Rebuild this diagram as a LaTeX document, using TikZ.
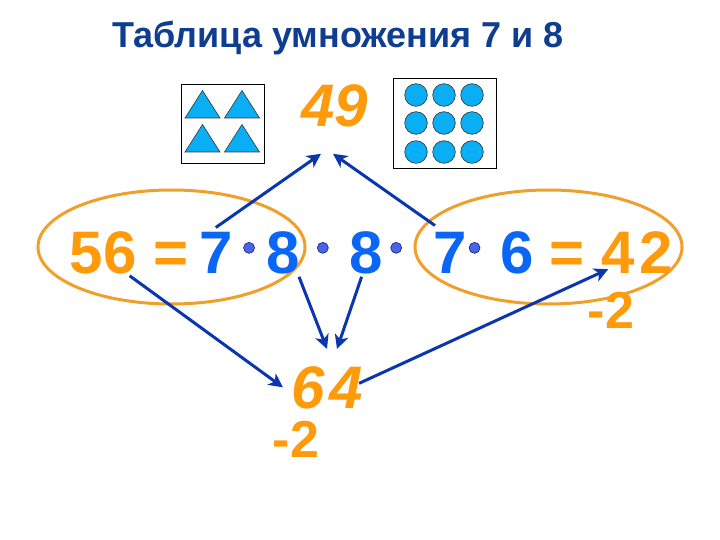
\documentclass[tikz,border=0pt]{standalone}
\usepackage{fontspec}
\setmainfont{Liberation Sans}
\usetikzlibrary{positioning,
calc,
shapes.geometric,
arrows.meta}
\definecolor{Orng}{HTML}{FF9A0A}
\definecolor{Ring}{HTML}{F0A02A}
\definecolor{Digit}{HTML}{0A66F5}
\definecolor{Line}{HTML}{0A36B0}
\definecolor{Sky}{HTML}{0AAEF5}
\definecolor{Head}{HTML}{0F3D8F}
\definecolor{Spot}{HTML}{4C62E8}
\tikzstyle{Arrow} = [
line width=3pt,
color=Line,
-{Stealth[inset=4pt,length=14pt,width=14pt]}
]
\tikzstyle{Num} = [inner sep=0pt, text=Digit, font=\fontsize{60}{60}\selectfont\bfseries]
\tikzstyle{Res} = [Num, text=Orng]
\tikzstyle{Ital} = [Res, font=\fontsize{60}{60}\selectfont\bfseries\itshape]
\tikzstyle{Minus} = [Res, font=\fontsize{52}{52}\selectfont\bfseries]
\tikzstyle{Dot} = [circle, draw=Line!70!black, fill=Spot, line width=0.6pt, inner sep=0pt, minimum size=11pt]
\tikzstyle{Oval} = [ellipse, draw=Ring, line width=3pt, inner sep=0pt]
\tikzstyle{Box} = [rectangle, draw, line width=0.9pt, inner sep=0pt]
\tikzstyle{Tri} = [fill=Sky, draw=black!80, line width=0.6pt]
\begin{document}
\begin{tikzpicture}[x=1pt,y=-1pt]
            \useasboundingbox (0,0) rectangle (720,540);
            \fill[white] (0,0) rectangle (720,540);
            \node [anchor=base west, inner sep=0pt, text=Head, font=\fontsize{36}{36}\selectfont\bfseries] (title) at (112,48) {Таблица умножения 7 и 8};

            \node [Box, minimum width=83pt, minimum height=79pt] (boxtri) at (222.5,123.5) {};
            \node [Box, minimum width=103pt, minimum height=90pt] (boxcirc) at (444.5,123) {};
            \foreach \x/\y in {202.5/118, 242/118, 202.5/152, 242/152}
                \draw[Tri] (\x-17.5,\y) -- (\x,\y-27.5) -- (\x+17.5,\y) -- cycle;
            \foreach \x in {416,444,472}
                \foreach \y in {95,123,152}
                    \draw[Tri] (\x,\y) circle [radius=11.3pt];
            \node [Ital, anchor=base] (res49) at (335,127) {49};

            \node [Oval, minimum width=267pt, minimum height=114pt] (ovalL) at (171.5,247) {};
            \node [Oval, minimum width=267pt, minimum height=114pt] (ovalR) at (548.5,247) {};

            \node [Res, anchor=base west] (56) at (69.5,273) {56};
            \node [Res, base right=16.8pt of 56] (eqL) {=};
            \node [Num, base right=10pt of eqL] (7a) {7};
            \node [Num, base right=33.6pt of 7a] (8a) {8};
            \node [Num, base right=49.6pt of 8a] (8b) {8};
            \node [Num, base right=49.6pt of 8b] (7b) {7};
            \node [Num, base right=33.6pt of 7b] (6) {6};
            \node [Res, base right=15.6pt of 6] (eqR) {=};
            \node [Res, base right=16pt of eqR] (42) {4\kern5pt 2};
            \node [Minus, anchor=base] (minusR) at (611,328) {-2};

            \node [Dot, right=10.6pt of 7a, yshift=4.5pt] (dot1) {};
            \node [Dot, right=17pt of 8a, yshift=4.5pt] (dot2) {};
            \node [Dot, right=7pt of 8b, yshift=4.5pt] (dot3) {};
            \node [Dot, right=2pt of 7b, yshift=4.5pt] (dot4) {};

            \node [Ital, anchor=base] (64) at (327,408) {6\kern5pt 4};
            \node [Minus, anchor=base] (minusB) at (296,457) {-2};

            \draw[Arrow] ([yshift=4pt]7a.north) to ([xshift=-14pt,yshift=-26pt]res49.south);
            \draw[Arrow] ([xshift=2pt,yshift=6pt]7b.north west) to ([xshift=-2pt,yshift=-26pt]res49.south);
            \draw[Arrow] ([xshift=-7pt,yshift=-2pt]56.south east) to ([xshift=-8pt,yshift=0pt]64.west);
            \draw[Arrow] ([xshift=-1pt,yshift=-3pt]8a.south east) to ([xshift=0pt,yshift=17pt]64.north);
            \draw[Arrow] ([xshift=12pt,yshift=-3pt]8b.south west) to ([xshift=10pt,yshift=17pt]64.north);
            \draw[Arrow] ([xshift=-4pt,yshift=4pt]64.east) to ([xshift=7pt,yshift=4pt]42.south west);
\end{tikzpicture}
\end{document}
